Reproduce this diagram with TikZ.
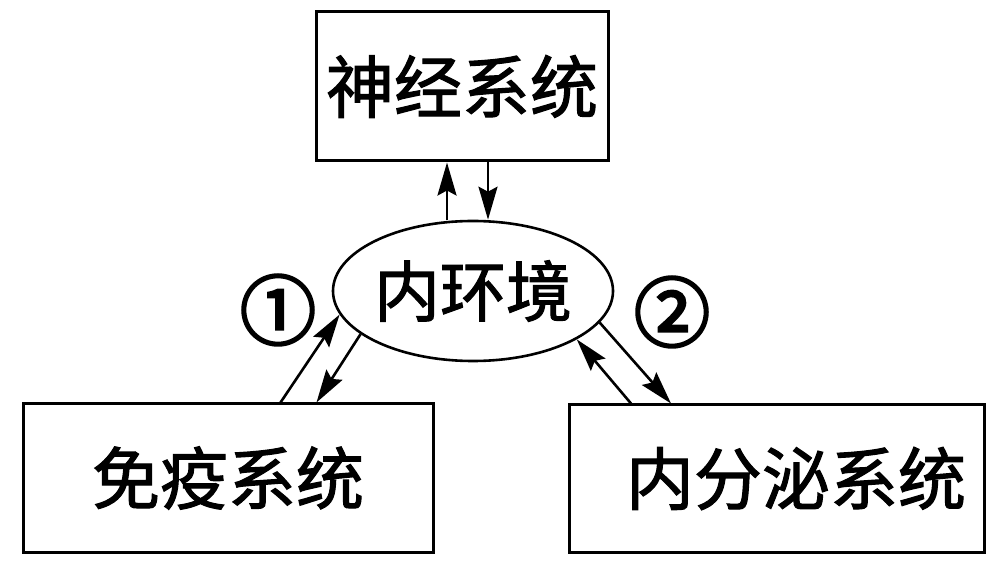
\documentclass[tikz,border=0pt]{standalone}
\usepackage{fontspec}
\newfontfamily\cjk{Noto Sans CJK SC}[FakeBold=1.6]
\newfontfamily\cjknum{Noto Sans CJK SC}[FakeBold=3.5]
\usetikzlibrary{arrows.meta,shapes.geometric,calc}
\begin{document}
\begin{tikzpicture}[x=1pt,y=1pt,
  box/.style={draw, line width=3pt, inner sep=0pt, font=\cjk\fontsize{68}{68}\selectfont},
  arr/.style={line width=2.6pt, -{Stealth[length=33pt,width=19pt,inset=5pt]}},
  num/.style={inner sep=0pt, font=\cjknum\fontsize{76}{76}\selectfont}]
\useasboundingbox (0,0) rectangle (992,562);
\node[box, minimum width=292pt, minimum height=149pt] (top) at (462,475.5) {神经系统};
\node[box, minimum width=410pt, minimum height=148pt] (imm) at (228,84) {免疫系统\hspace{20pt}};
\node[box, minimum width=415pt, minimum height=147pt] (endo) at (777,83.5) {\hspace{38pt}内分泌系统};
\node[draw, ellipse, line width=2.6pt, minimum width=260pt, minimum height=140pt, inner sep=0pt,
  font=\cjk\fontsize{66}{66}\selectfont] (env) at (473,271) {\raisebox{5pt}{内环境}};
\coordinate (u1) at ($(env.north)+(-26,0)$);
\coordinate (d1) at ($(env.north)+(15,0)$);
\draw[arr] (u1) -- (u1 |- top.south);
\draw[arr] (d1 |- top.south) -- (d1);
\draw[arr] ($(imm.north west)+(259,0)$) -- (env.190);
\draw[arr] (env.201.6) -- ($(imm.north west)+(295,0)$);
\draw[arr] ($(endo.north west)+(63,0)$) -- (env.335.7);
\draw[arr] (env.346.4) -- ($(endo.north west)+(103,0)$);
\node[num] (n1) at (278,252) {①};
\node[num] (n2) at (672,250) {②};
\end{tikzpicture}
\end{document}
